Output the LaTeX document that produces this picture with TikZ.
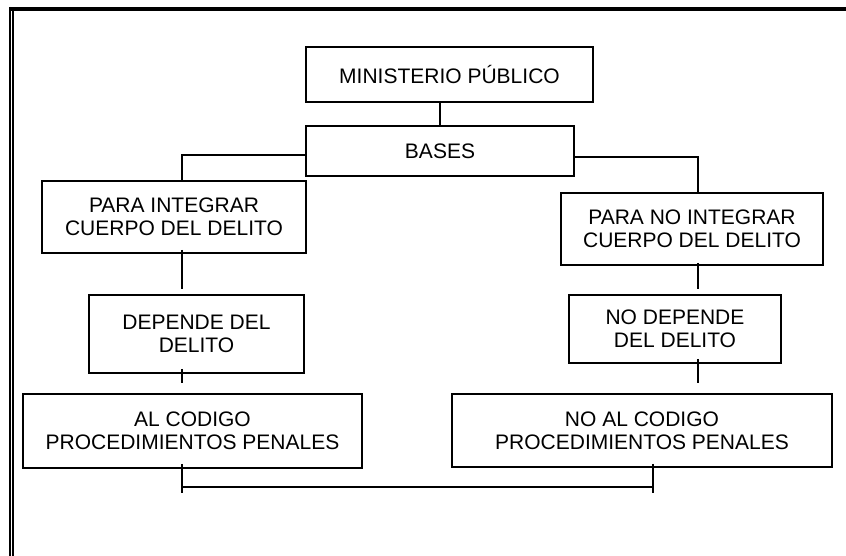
\documentclass[tikz,border=0pt]{standalone}
\usepackage{fontspec}
\setmainfont{Liberation Sans}
\usetikzlibrary{calc}
\tikzset{
  every picture/.style={line width=1.3pt},
  box/.style={draw, line width=1.5pt, align=center, inner sep=0pt, font=\fontsize{21}{23}\selectfont},
  link/.style={line width=1.3pt},
  frame/.style={line width=#1},
}

\begin{document}
\begin{tikzpicture}[x=1pt, y=-1pt]
  \useasboundingbox (0,0) rectangle (846,556);
  % page frame
  \draw[frame=4pt] (9,9) -- (846,9);
  \draw[frame=2pt] (10,7) -- (10,556);
  \draw[frame=2pt] (13,11) -- (13,556);
  % boxes
  \node[box, minimum width=287pt, minimum height=55pt] (mp) at (449.5,74.5) {MINISTERIO PÚBLICO};
  \node[box, minimum width=268pt, minimum height=50pt] (bases) at (440,151) {BASES};
  \node[box, minimum width=264pt, minimum height=72pt] (pint) at (174,217) {PARA INTEGRAR\\CUERPO DEL DELITO};
  \node[box, minimum width=262pt, minimum height=72pt] (pnoint) at (692,229) {PARA NO INTEGRAR\\CUERPO DEL DELITO};
  \node[box, minimum width=215pt, minimum height=78pt] (dep) at (196.5,334) {DEPENDE DEL\\DELITO};
  \node[box, minimum width=212pt, minimum height=68pt] (nodep) at (675,329) {NO DEPENDE\\DEL DELITO};
  \node[box, minimum width=339pt, minimum height=74pt] (alcod) at (192.5,431) {AL CODIGO\\PROCEDIMIENTOS PENALES};
  \node[box, minimum width=380pt, minimum height=73pt] (noalcod) at (642,430.5) {NO AL CODIGO\\PROCEDIMIENTOS PENALES};
  \coordinate (lcol) at (182,0);
  \coordinate (rcol) at (698,0);
  \coordinate (rend) at (653,0);
  \coordinate (ltick) at ($(lcol |- dep.south)+(0,9)$);
  \coordinate (rtick) at ($(rcol |- nodep.south)+(0,19)$);
  \coordinate (lfoot) at (182,493);
  \coordinate (rfoot) at (653,493);
  % top of the tree
  \draw[link] (bases.north |- mp.south) -- (bases.north);
  \draw[link] ($(bases.west)+(0,4)$) -| (lcol |- pint.north);
  \draw[link] ($(bases.east)+(0,6)$) -| (rcol |- pnoint.north);
  % left branch
  \draw[link] ($(lcol |- pint.south)+(0,-4)$) -- ($(lcol |- dep.north)+(0,-5)$);
  \draw[link] ($(lcol |- dep.south)+(0,-5)$) -- (ltick);
  % right branch
  \draw[link] ($(rcol |- pnoint.south)+(0,-3)$) -- ($(rcol |- nodep.north)+(0,-5)$);
  \draw[link] ($(rcol |- nodep.south)+(0,-5)$) -- (rtick);
  % join at the bottom
  \draw[link] ($(lcol |- alcod.south)+(0,-5)$) -- (lfoot);
  \draw[link] ($(rend |- noalcod.south)+(0,-4)$) -- (rfoot);
  \draw[link] ($(lfoot)+(0,-6)$) -- ($(rfoot)+(0,-6)$);
\end{tikzpicture}
\end{document}
